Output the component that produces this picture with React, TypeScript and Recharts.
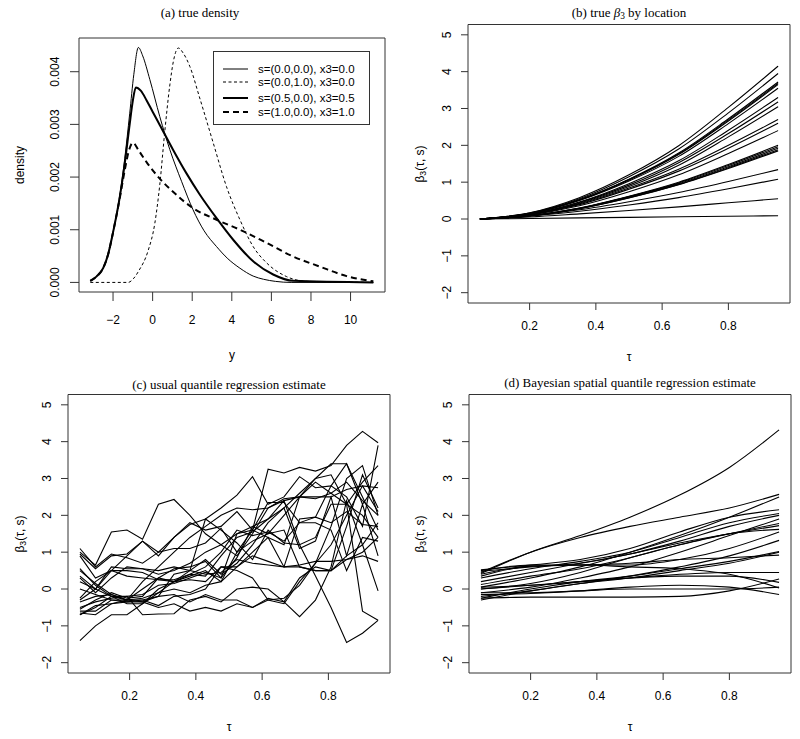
import React from "react";
import { LineChart, Line, XAxis, YAxis, ReferenceArea } from "recharts";

const SANS = '"Liberation Sans", Arial, Helvetica, sans-serif';
const SERIF = '"Liberation Serif", "Times New Roman", serif';
const BOX = "#333";

// ---------- (a) true density (y in units of 0.001) ----------
const densS00x = [-3.15, -2.84, -2.5, -2.25, -2.0, -1.66, -1.41, -1.16, -0.95, -0.72, -0.5, -0.14, 0.36, 0.87, 1.46, 2.04, 2.6, 3.23, 3.8, 4.41, 5.08, 5.6, 6.2, 7.0, 11.15];
const densS00y = [0.03, 0.11, 0.27, 0.53, 0.95, 1.65, 2.35, 3.2, 3.95, 4.46, 4.3, 3.85, 3.15, 2.52, 1.92, 1.38, 0.98, 0.68, 0.45, 0.27, 0.12, 0.06, 0.02, 0.0, 0.0];
const densS01x = [-3.15, -1.24, -0.95, -0.7, -0.23, 0.11, 0.36, 0.61, 0.87, 1.05, 1.3, 1.55, 1.88, 2.38, 3.06, 3.73, 4.41, 5.08, 5.76, 6.77, 7.8, 11.15];
const densS01y = [0, 0, 0.08, 0.22, 0.6, 1.12, 1.85, 2.85, 3.75, 4.2, 4.45, 4.35, 4.1, 3.5, 2.65, 1.82, 1.19, 0.68, 0.37, 0.11, 0.02, 0.0];
const densS05x = [-3.15, -2.84, -2.5, -2.25, -2.0, -1.66, -1.41, -1.16, -1.0, -0.85, -0.6, -0.31, 0.0, 0.36, 1.03, 1.71, 2.38, 3.23, 4.07, 5.08, 6.09, 7.1, 11.15];
const densS05y = [0.03, 0.11, 0.27, 0.53, 0.95, 1.62, 2.25, 3.0, 3.45, 3.7, 3.64, 3.46, 3.24, 2.99, 2.52, 2.07, 1.67, 1.22, 0.81, 0.4, 0.15, 0.03, 0.0];
const densS10x = [-3.15, -2.84, -2.5, -2.25, -2.0, -1.66, -1.4, -1.2, -1.0, -0.7, -0.3, 0.36, 1.03, 2.04, 3.23, 4.41, 5.76, 7.11, 8.45, 9.8, 11.15];
const densS10y = [0.03, 0.11, 0.27, 0.53, 0.95, 1.6, 2.15, 2.5, 2.65, 2.5, 2.28, 1.97, 1.72, 1.41, 1.19, 1.0, 0.75, 0.49, 0.3, 0.12, 0.02];

const DENS_X_TICKS = [-2, 0, 2, 4, 6, 8, 10];
const DENS_Y_TICKS = [0, 1, 2, 3, 4];
const DENS_LEGEND = [
  "s=(0.0,0.0), x3=0.0",
  "s=(0.0,1.0), x3=0.0",
  "s=(0.5,0.0), x3=0.5",
  "s=(1.0,0.0), x3=1.0",
];

// ---------- shared tau axis ----------
const TAU_TICKS = [0.2, 0.4, 0.6, 0.8];
const BETA_TICKS = [-2, -1, 0, 1, 2, 3, 4, 5];
const TAU_SMOOTH = [0.05, 0.2, 0.35, 0.5, 0.65, 0.8, 0.95];
const TAU_GRID = [0.05, 0.097, 0.145, 0.192, 0.239, 0.287, 0.334, 0.382, 0.429, 0.476, 0.524, 0.571, 0.618, 0.666, 0.713, 0.761, 0.808, 0.855, 0.903, 0.95];

// ---------- (b) true beta3 ----------
const trueB01 = [0, 0.17, 0.58, 1.2, 1.99, 3.03, 4.15];
const trueB02 = [0, 0.16, 0.55, 1.15, 1.9, 2.88, 3.95];
const trueB03 = [0, 0.15, 0.52, 1.08, 1.79, 2.72, 3.72];
const trueB04 = [0, 0.15, 0.52, 1.07, 1.77, 2.69, 3.68];
const trueB05 = [0, 0.15, 0.51, 1.06, 1.75, 2.66, 3.65];
const trueB06 = [0, 0.14, 0.5, 1.03, 1.7, 2.59, 3.55];
const trueB07 = [0, 0.13, 0.46, 0.96, 1.58, 2.41, 3.3];
const trueB08 = [0, 0.13, 0.45, 0.92, 1.53, 2.32, 3.18];
const trueB09 = [0, 0.12, 0.43, 0.88, 1.46, 2.23, 3.05];
const trueB10 = [0, 0.12, 0.41, 0.84, 1.35, 2.0, 2.7];
const trueB11 = [0, 0.12, 0.39, 0.81, 1.3, 1.92, 2.6];
const trueB12 = [0, 0.11, 0.36, 0.74, 1.2, 1.78, 2.4];
const trueB13 = [0, 0.09, 0.3, 0.62, 1.0, 1.48, 2.0];
const trueB14 = [0, 0.09, 0.29, 0.61, 0.98, 1.45, 1.96];
const trueB15 = [0, 0.09, 0.29, 0.6, 0.96, 1.42, 1.92];
const trueB16 = [0, 0.08, 0.28, 0.58, 0.94, 1.39, 1.88];
const trueB17 = [0, 0.08, 0.28, 0.57, 0.93, 1.37, 1.85];
const trueB18 = [0, 0.09, 0.25, 0.47, 0.72, 1.02, 1.34];
const trueB19 = [0, 0.08, 0.21, 0.38, 0.58, 0.82, 1.08];
const trueB20 = [0, 0.055, 0.14, 0.23, 0.33, 0.44, 0.55];
const trueB21 = [0, 0.015, 0.03, 0.045, 0.06, 0.075, 0.09];
const TRUE_SERIES = [trueB01, trueB02, trueB03, trueB04, trueB05, trueB06, trueB07, trueB08, trueB09, trueB10, trueB11, trueB12, trueB13, trueB14, trueB15, trueB16, trueB17, trueB18, trueB19, trueB20, trueB21];

// ---------- (c) usual quantile regression ----------
const qr01 = [1.0, 0.65, 1.55, 1.6, 1.35, 2.3, 2.43, 2.0, 1.5, 1.2, 0.9, 1.5, 2.2, 2.4, 2.5, 2.45, 2.6, 2.9, 2.4, 2.0];
const qr02 = [0.95, 0.55, 0.9, 0.95, 1.3, 0.9, 1.4, 1.75, 1.9, 2.2, 2.55, 3.05, 2.3, 2.5, 3.05, 2.75, 2.8, 3.4, 2.3, 2.9];
const qr03 = [1.1, 0.6, 0.95, 0.85, 0.7, 1.0, 1.1, 1.1, 1.25, 1.65, 1.0, 1.6, 3.25, 3.15, 3.3, 3.2, 3.35, 3.9, 4.28, 3.97];
const qr04 = [0.3, -0.1, 0.3, 0.6, 0.55, 0.4, 0.5, 0.7, 1.0, 1.2, 1.5, 1.7, 1.9, 2.4, 1.2, 0.35, -0.5, -1.45, -1.2, -0.85];
const qr05 = [-1.4, -1.0, -0.7, -0.7, -0.4, -0.1, 0.2, 0.5, 0.8, 0.4, 0.7, 1.2, 1.8, 2.2, 2.6, 3.0, 3.1, 2.3, -0.6, -0.85];
const qr06 = [-0.5, -0.35, -0.25, -0.2, -0.7, -0.68, -0.67, -0.3, -0.2, -0.35, 0.0, 0.05, 0.0, -0.35, -0.75, -0.3, 0.6, 2.4, 1.2, -0.05];
const qr07 = [0.55, 0.1, -0.2, -0.4, -0.4, 0.0, 0.2, 0.4, 0.6, 1.0, 1.6, 1.45, 1.55, 1.3, 1.8, 1.8, 1.6, 0.5, 1.4, 1.3];
const qr08 = [-0.3, 0.0, 0.5, 0.35, 0.3, 0.25, 0.2, 0.35, 0.5, 0.2, 1.0, 1.3, 1.5, 2.0, 2.5, 3.0, 3.4, 3.4, 2.5, 1.6];
const qr09 = [0.0, -0.15, -0.3, -0.35, -0.3, -0.2, -0.15, -0.35, -0.15, -0.3, -0.3, -0.5, -0.3, -0.25, 0.1, 0.7, 1.2, 2.0, 2.8, 2.75];
const qr10 = [-0.7, -0.45, -0.4, -0.35, -0.35, -0.5, -0.4, -0.6, -0.5, -0.6, -0.4, -0.5, -0.25, -0.35, 0.3, 0.6, 0.5, 1.7, 3.1, 2.2];
const qr11 = [-0.55, -0.3, -0.1, -0.25, -0.2, 0.3, 0.2, 0.25, 0.2, 0.6, 0.6, 1.0, 1.4, 0.6, 0.65, 0.75, 0.75, 0.8, 1.0, 1.4];
const qr12 = [-0.25, 0.2, 0.5, 0.5, 0.45, 0.25, 0.25, 0.4, 0.35, 0.9, 1.4, 1.55, 1.9, 2.2, 1.1, 1.3, 2.5, 0.9, 2.3, 0.9];
const qr13 = [0.2, 0.0, 0.6, 0.55, 0.55, 0.5, 0.6, 0.5, 0.4, 0.45, 0.8, 0.7, 0.65, 0.6, 0.6, 0.5, 0.5, 0.9, 1.2, 1.8];
const qr14 = [-0.6, -0.6, -0.3, -0.3, 0.2, 0.6, 1.0, 1.4, 1.7, 2.0, 2.2, 2.15, 2.2, 2.45, 2.5, 2.5, 2.5, 2.7, 2.8, 2.1];
const qr15 = [0.5, 0.15, -0.15, -0.3, -0.25, -0.1, 0.0, -0.1, 0.1, 0.2, 0.6, 0.9, 0.75, 0.6, 1.9, 1.95, 1.8, 2.1, 1.75, 1.7];
const qr16 = [-0.35, -0.2, -0.15, -0.3, -0.3, -0.45, -0.2, -0.15, 0.0, 0.6, 0.5, 0.3, -0.3, -0.4, 0.2, 0.7, 1.7, 3.0, 3.35, 2.0];
const qr17 = [0.9, 0.3, 0.5, 0.9, 1.3, 1.0, 1.4, 1.8, 1.6, 1.7, 2.1, 1.6, 1.4, 1.2, 2.5, 2.9, 2.6, 2.3, 2.0, 1.4];
const qr18 = [-0.7, -0.5, -0.2, -0.2, -0.15, 0.1, 0.15, 0.3, 0.45, 0.3, 0.85, 1.7, 1.5, 1.6, 0.6, 0.5, 0.5, 0.8, 0.9, 0.75];
const qr19 = [0.35, 0.0, -0.2, -0.3, -0.35, -0.2, 0.4, 0.5, 1.9, 1.6, 1.25, 0.8, 1.6, 1.25, 1.2, 1.4, 2.3, 2.3, 2.9, 3.35];
const qr20 = [-0.65, -0.7, -0.4, -0.3, 0.0, 0.3, 0.55, 0.6, 0.75, 0.3, 1.5, 1.6, 2.35, 2.35, 1.8, 1.95, 2.8, 2.5, 1.7, 3.9];
const QR_SERIES = [qr01, qr02, qr03, qr04, qr05, qr06, qr07, qr08, qr09, qr10, qr11, qr12, qr13, qr14, qr15, qr16, qr17, qr18, qr19, qr20];

// ---------- (d) Bayesian spatial quantile regression ----------
const bsq01 = [0.42, 1.0, 1.45, 1.95, 2.55, 3.3, 4.32];
const bsq02 = [0.45, 1.0, 1.4, 1.7, 1.95, 2.2, 2.57];
const bsq03 = [0.05, 0.3, 0.6, 1.0, 1.45, 1.95, 2.5];
const bsq04 = [0.52, 0.65, 0.8, 1.1, 1.55, 1.95, 2.15];
const bsq05 = [0.3, 0.55, 0.75, 1.0, 1.4, 1.8, 2.05];
const bsq06 = [0.2, 0.45, 0.7, 0.95, 1.3, 1.7, 2.0];
const bsq07 = [-0.1, 0.05, 0.3, 0.6, 1.0, 1.45, 1.9];
const bsq08 = [0.12, 0.35, 0.55, 0.85, 1.2, 1.5, 1.78];
const bsq09 = [0.48, 0.6, 0.7, 0.95, 1.25, 1.5, 1.72];
const bsq10 = [0.0, 0.15, 0.45, 0.85, 1.2, 1.5, 1.62];
const bsq11 = [0.35, 0.62, 0.65, 0.65, 0.8, 1.1, 1.55];
const bsq12 = [-0.2, -0.05, 0.15, 0.35, 0.6, 0.9, 1.32];
const bsq13 = [-0.25, 0.0, 0.2, 0.35, 0.55, 0.75, 1.02];
const bsq14 = [-0.3, -0.05, 0.15, 0.3, 0.5, 0.7, 1.0];
const bsq15 = [0.4, 0.62, 0.65, 0.7, 0.8, 0.85, 0.92];
const bsq16 = [0.05, 0.1, 0.2, 0.3, 0.4, 0.45, 0.45];
const bsq17 = [0.5, 0.65, 0.65, 0.6, 0.55, 0.4, 0.03];
const bsq18 = [0.0, 0.1, 0.2, 0.3, 0.35, 0.35, 0.18];
const bsq19 = [-0.1, -0.1, -0.05, 0.0, 0.0, 0.0, 0.05];
const bsq20 = [-0.25, -0.22, -0.22, -0.22, -0.2, -0.05, 0.27];
const bsq21 = [-0.15, -0.12, -0.05, 0.05, 0.1, 0.05, -0.15];
const BSQ_SERIES = [bsq01, bsq02, bsq03, bsq04, bsq05, bsq06, bsq07, bsq08, bsq09, bsq10, bsq11, bsq12, bsq13, bsq14, bsq15, bsq16, bsq17, bsq18, bsq19, bsq20, bsq21];

function buildRows(taus: number[], series: number[][]) {
  return taus.map((t, i) => {
    const row: Record<string, number> = { tau: t };
    series.forEach((s, k) => {
      row[`s${k}`] = s[i];
    });
    return row;
  });
}

function zip(xs: number[], ys: number[]) {
  return xs.map((x, i) => ({ x, y: ys[i] }));
}

const minus = (v: number) => String(v).replace("-", "\u2212");

// rotated (R style, las=0) y tick labels
function rotTick(cx: number, fmt: (v: number) => string) {
  return (props: any) => {
    const { y, payload } = props;
    return (
      <text
        x={cx}
        y={y}
        transform={`rotate(-90 ${cx} ${y})`}
        textAnchor="middle"
        dominantBaseline="central"
        fontSize={12}
        fontFamily={SANS}
        fill="#000"
      >
        {fmt(payload.value)}
      </text>
    );
  };
}

function Title({ cx, cy, children }: { cx: number; cy: number; children: React.ReactNode }) {
  return (
    <div
      style={{
        position: "absolute",
        left: cx - 200,
        top: cy - 9,
        width: 400,
        height: 18,
        lineHeight: "18px",
        textAlign: "center",
        fontFamily: SERIF,
        fontSize: 13,
        color: "#000",
        whiteSpace: "nowrap",
      }}
    >
      {children}
    </div>
  );
}

function AxisText({ cx, cy, rotate, children }: { cx: number; cy: number; rotate?: boolean; children: React.ReactNode }) {
  return (
    <div
      style={{
        position: "absolute",
        left: cx,
        top: cy,
        transform: `translate(-50%, -50%)${rotate ? " rotate(-90deg)" : ""}`,
        fontFamily: SANS,
        fontSize: 12,
        lineHeight: "14px",
        color: "#000",
        whiteSpace: "nowrap",
      }}
    >
      {children}
    </div>
  );
}

const sub3 = <sub style={{ fontSize: "0.72em", verticalAlign: "-0.25em", lineHeight: 0 }}>3</sub>;

function DensityPanel() {
  const curves = [
    { data: zip(densS00x, densS00y), width: 1, dash: undefined },
    { data: zip(densS01x, densS01y), width: 1, dash: "3 2.5" },
    { data: zip(densS05x, densS05y), width: 2, dash: undefined },
    { data: zip(densS10x, densS10y), width: 2, dash: "6 4" },
  ];
  return (
    <div style={{ position: "absolute", left: 0, top: 0, width: 400, height: 370 }}>
      <LineChart width={400} height={370} margin={{ top: 38, right: 15, bottom: 0, left: 0 }}>
        <XAxis
          type="number"
          dataKey="x"
          domain={[-3.72, 11.74]}
          ticks={DENS_X_TICKS}
          interval={0}
          allowDataOverflow
          height={78}
          tickSize={9}
          tickMargin={14}
          axisLine={false}
          tickLine={{ stroke: BOX }}
          tickFormatter={minus}
          tick={{ fill: "#000", fontSize: 12, fontFamily: SANS }}
        />
        <YAxis
          type="number"
          dataKey="y"
          domain={[-0.182, 4.64]}
          ticks={DENS_Y_TICKS}
          interval={0}
          allowDataOverflow
          width={79}
          tickSize={9}
          tickMargin={0}
          axisLine={false}
          tickLine={{ stroke: BOX }}
          tick={rotTick(55, (v) => (v / 1000).toFixed(3))}
        />
        <ReferenceArea x1={-3.72} x2={11.74} y1={-0.182} y2={4.64} fill="none" stroke={BOX} strokeWidth={1} />
        {curves.map((c, i) => (
          <Line
            key={i}
            data={c.data}
            dataKey="y"
            type="monotone"
            stroke="#000"
            strokeWidth={c.width}
            strokeDasharray={c.dash}
            dot={false}
            activeDot={false}
            isAnimationActive={false}
          />
        ))}
      </LineChart>
      <Title cx={200} cy={13}>(a) true density</Title>
      <AxisText cx={20} cy={165} rotate>density</AxisText>
      <AxisText cx={232} cy={355}>y</AxisText>
      <div
        style={{
          position: "absolute",
          left: 213,
          top: 51,
          width: 155,
          height: 72,
          border: `1px solid ${BOX}`,
          background: "#fff",
        }}
      >
        {DENS_LEGEND.map((label, i) => (
          <div
            key={label}
            style={{
              position: "absolute",
              left: 9,
              top: [17, 30, 46, 60][i] - 8,
              height: 16,
              display: "flex",
              alignItems: "center",
              fontFamily: SANS,
              fontSize: 11.5,
              color: "#000",
              whiteSpace: "nowrap",
            }}
          >
            <svg width={26} height={16} style={{ display: "block" }}>
              <line
                x1={0}
                x2={25}
                y1={8}
                y2={8}
                stroke="#000"
                strokeWidth={curves[i].width}
                strokeDasharray={curves[i].dash}
              />
            </svg>
            <span style={{ marginLeft: 9 }}>{label}</span>
          </div>
        ))}
      </div>
    </div>
  );
}

function BetaPanel({
  left,
  top,
  height,
  axisW,
  rows,
  count,
  curve,
  title,
  titleY,
}: {
  left: number;
  top: number;
  height: number;
  axisW: number;
  rows: Record<string, number>[];
  count: number;
  curve: "monotone" | "linear";
  title: React.ReactNode;
  titleY: number;
}) {
  const plotBottom = 303;
  return (
    <div style={{ position: "absolute", left, top, width: 400, height }}>
      <LineChart
        width={400}
        height={height}
        data={rows}
        margin={{ top: 24.5, right: 400 - axisW - 322, bottom: 0, left: 0 }}
      >
        <XAxis
          type="number"
          dataKey="tau"
          domain={[0.014, 0.986]}
          ticks={TAU_TICKS}
          interval={0}
          allowDataOverflow
          height={height - plotBottom}
          tickSize={7}
          tickMargin={11}
          axisLine={false}
          tickLine={{ stroke: BOX }}
          tick={{ fill: "#000", fontSize: 12, fontFamily: SANS }}
        />
        <YAxis
          type="number"
          domain={[-2.28, 5.28]}
          ticks={BETA_TICKS}
          interval={0}
          allowDataOverflow
          width={axisW}
          tickSize={7}
          tickMargin={0}
          axisLine={false}
          tickLine={{ stroke: BOX }}
          tick={rotTick(axisW - 21, minus)}
        />
        <ReferenceArea x1={0.014} x2={0.986} y1={-2.28} y2={5.28} fill="none" stroke={BOX} strokeWidth={1} />
        {Array.from({ length: count }, (_, k) => (
          <Line
            key={k}
            dataKey={`s${k}`}
            type={curve}
            stroke="#000"
            strokeWidth={1.1}
            dot={false}
            activeDot={false}
            isAnimationActive={false}
          />
        ))}
      </LineChart>
      <Title cx={axisW + 161} cy={titleY}>{title}</Title>
      <AxisText cx={20} cy={164} rotate>
        <span>β{sub3}(τ, s)</span>
      </AxisText>
      <AxisText cx={axisW + 161} cy={357}>τ</AxisText>
    </div>
  );
}

export default function App() {
  const trueRows = buildRows(TAU_SMOOTH, TRUE_SERIES);
  const qrRows = buildRows(TAU_GRID, QR_SERIES);
  const bsqRows = buildRows(TAU_SMOOTH, BSQ_SERIES);
  return (
    <div style={{ position: "absolute", left: 0, top: 0, width: 800, height: 739, background: "#fff", overflow: "hidden" }}>
      <DensityPanel />
      <BetaPanel
        left={400}
        top={0}
        height={370}
        axisW={68}
        rows={trueRows}
        count={TRUE_SERIES.length}
        curve="monotone"
        titleY={13}
        title={
          <span>
            (b) true <i>β</i>
            {sub3} by location
          </span>
        }
      />
      <BetaPanel
        left={0}
        top={370}
        height={369}
        axisW={68}
        rows={qrRows}
        count={QR_SERIES.length}
        curve="linear"
        titleY={15}
        title="(c) usual quantile regression estimate"
      />
      <BetaPanel
        left={400}
        top={370}
        height={369}
        axisW={69}
        rows={bsqRows}
        count={BSQ_SERIES.length}
        curve="monotone"
        titleY={13}
        title="(d) Bayesian spatial quantile regression estimate"
      />
    </div>
  );
}
